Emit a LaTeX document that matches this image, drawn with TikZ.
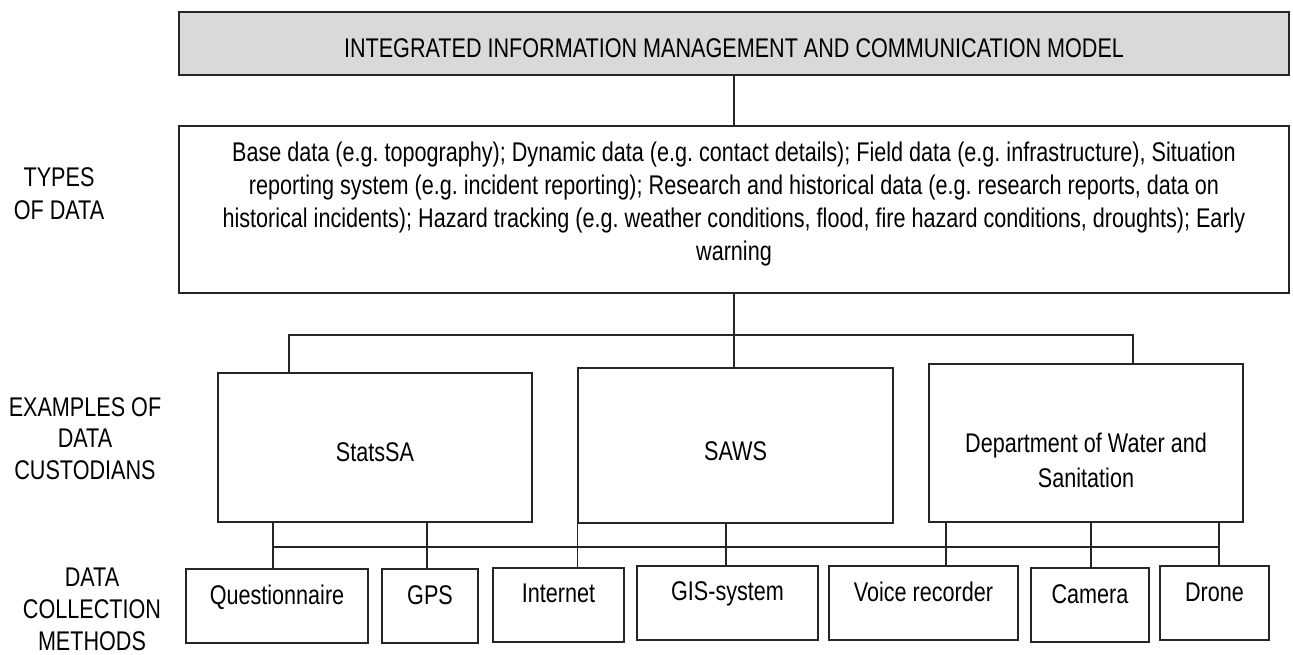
\documentclass[tikz,border=0pt]{standalone}
\usepackage{fontspec}
\setmainfont{Liberation Sans}[FakeStretch=0.8]
\frenchspacing
\newcommand\liftrows[3]{{\renewcommand\arraystretch{#2}\raisebox{#1}[\height][\depth]{\begin{tabular}{@{}c@{}}#3\end{tabular}}}}
\begin{document}
\begin{tikzpicture}[x=1pt,y=-1pt,
  every node/.style={font=\fontsize{27}{32.7}\selectfont\frenchspacing, text=black},
  box/.style={draw=black!85, line width=1.2pt, inner sep=0pt, rectangle},
  conn/.style={draw=black!85, line width=1.2pt},
  sidelabel/.style={inner sep=0pt}]
\useasboundingbox (0,0) rectangle (1293,655);

% top level
\node[box, fill=black!15, minimum width=1110pt, minimum height=63pt] (title) at (734,43.5)
  {\liftrows{-7.5pt}{1}{INTEGRATED INFORMATION MANAGEMENT AND COMMUNICATION MODEL}};
\node[box, minimum width=1110pt, minimum height=167pt] (types) at (734,209.5)
  {\liftrows{5pt}{1}{Base data (e.g. topography); Dynamic data (e.g. contact details); Field data (e.g. infrastructure), Situation\\
   reporting system (e.g. incident reporting); Research and historical data (e.g. research reports, data on\\
   historical incidents); Hazard tracking (e.g. weather conditions, flood, fire hazard conditions, droughts); Early\\
   warning}};

% custodians
\node[box, minimum width=314pt, minimum height=149pt] (stats) at (375,447.5)
  {\liftrows{-7pt}{1}{StatsSA}};
\node[box, minimum width=315pt, minimum height=155pt] (saws) at (735.5,445.5)
  {\liftrows{-8.5pt}{1}{SAWS}};
\node[box, minimum width=314pt, minimum height=158pt] (dws) at (1086,443)
  {\liftrows{-20pt}{1.07}{Department of Water and\\ Sanitation}};

% methods
\node[box, minimum width=182pt, minimum height=74pt] (quest) at (277,606)
  {\liftrows{8.5pt}{1}{Questionnaire}};
\node[box, minimum width=96pt, minimum height=74pt] (gps) at (430,606)
  {\liftrows{8pt}{1}{GPS}};
\node[box, minimum width=131pt, minimum height=74pt] (inet) at (558.5,605)
  {\liftrows{9.5pt}{1}{Internet}};
\node[box, minimum width=181pt, minimum height=74pt] (gis) at (727.5,603)
  {\liftrows{9.5pt}{1}{GIS-system}};
\node[box, minimum width=189pt, minimum height=74pt] (voice) at (923.5,603)
  {\liftrows{8.5pt}{1}{Voice recorder}};
\node[box, minimum width=118pt, minimum height=74pt] (camera) at (1090,605)
  {\liftrows{8.5pt}{1}{Camera}};
\node[box, minimum width=109pt, minimum height=74pt] (drone) at (1214.5,603)
  {\liftrows{8pt}{1}{Drone}};

% side labels
\node[sidelabel] (ltypes) at (59,193.5) {\liftrows{-3pt}{1}{TYPES\\ OF DATA}};
\node[sidelabel] (lcust) at (85,438.5) {\liftrows{-3pt}{0.97}{EXAMPLES OF\\ DATA\\ CUSTODIANS}};
\node[sidelabel] (lmeth) at (92,609.5) {\liftrows{-3pt}{0.98}{DATA\\ COLLECTION\\ METHODS}};

% connectors: top level
\draw[conn] (title.south) -- (types.north);
\coordinate (bl) at (289,335);
\coordinate (br) at (1133,335);
\draw[conn] (types.south) -- (types.south |- saws.north);
\draw[conn] (bl |- stats.north) -- (bl) -- (br) -- (br |- dws.north);

% connectors: methods
\coordinate (cl) at (273,547);
\coordinate (cr) at (1219,547);
\draw[conn] (cl) -- (cr);
\draw[conn] (cl |- stats.south) -- (cl |- quest.north);
\draw[conn] (427,0 |- stats.south) -- (427,0 |- gps.north);
\draw[conn] (saws.south west) -- (saws.south west |- inet.north);
\draw[conn] (726,0 |- saws.south) -- (726,0 |- gis.north);
\draw[conn] (946,0 |- dws.south) -- (946,0 |- voice.north);
\draw[conn] (1091,0 |- dws.south) -- (1091,0 |- camera.north);
\draw[conn] (cr |- dws.south) -- (cr |- drone.north);
\end{tikzpicture}
\end{document}
